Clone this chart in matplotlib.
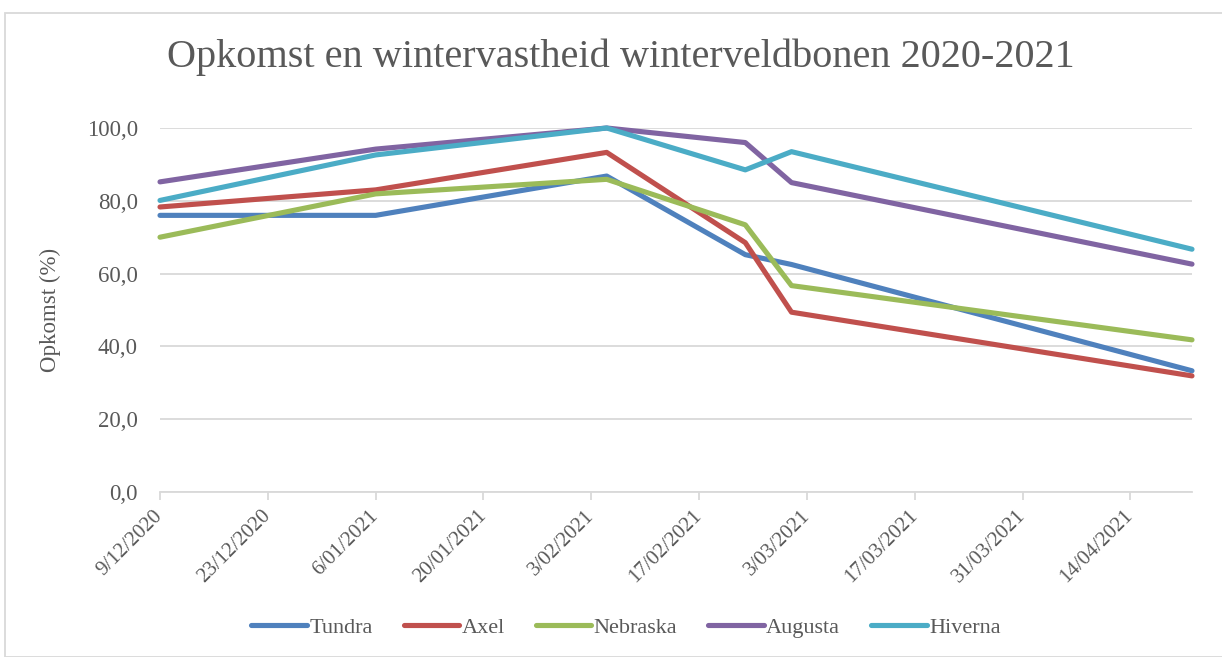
import matplotlib
matplotlib.use("Agg")
import matplotlib.pyplot as plt
from matplotlib.patches import Rectangle
from datetime import datetime

# ---- data ----
dates = ["9/12/2020", "6/01/2021", "5/02/2021", "23/02/2021", "1/03/2021", "22/04/2021"]
tundra = [76.0, 76.0, 86.8, 65.2, 62.5, 33.3]
axel = [78.3, 83.0, 93.3, 68.5, 49.4, 31.9]
nebraska = [70.0, 81.9, 85.9, 73.4, 56.7, 41.8]
augusta = [85.2, 94.2, 100.0, 96.0, 85.0, 62.6]
hiverna = [80.1, 92.6, 100.0, 88.5, 93.5, 66.7]
series_names = ["Tundra", "Axel", "Nebraska", "Augusta", "Hiverna"]
tick_labels = ["9/12/2020", "23/12/2020", "6/01/2021", "20/01/2021", "3/02/2021",
               "17/02/2021", "3/03/2021", "17/03/2021", "31/03/2021", "14/04/2021"]
y_ticks = [0, 20, 40, 60, 80, 100]
title = "Opkomst en wintervastheid winterveldbonen 2020-2021"
ylabel = "Opkomst (%)"

colors = ["#4F81BD", "#C0504D", "#9BBB59", "#8064A2", "#4BACC6"]

plt.rcParams['font.family'] = ['Liberation Serif', 'DejaVu Serif']
txt = "#595959"

def parse(s):
    return datetime.strptime(s, "%d/%m/%Y")

x = [parse(d) for d in dates]
xt = [parse(d) for d in tick_labels]

W, H = 1222, 657
fig = plt.figure(figsize=(W / 100, H / 100), dpi=100)
ax = fig.add_axes([160 / W, 1 - 492 / H, (1192 - 160) / W, (492 - 128) / H])

for name, vals, c in zip(series_names, [tundra, axel, nebraska, augusta, hiverna], colors):
    ax.plot(x, vals, color=c, lw=3.7, label=name, solid_capstyle='round',
            solid_joinstyle='round', clip_on=False)

ax.set_xlim(x[0], x[-1])
ax.set_ylim(0, 100)
ax.set_yticks(y_ticks)
ax.set_yticklabels([f"{v:.1f}".replace(".", ",") for v in y_ticks], fontsize=16.5, color=txt)
ax.set_xticks(xt)
ax.set_xticklabels(tick_labels, rotation=45, ha='right', va='center', rotation_mode='anchor',
                   fontsize=15, color=txt)
ax.grid(axis='y', color='#D9D9D9', lw=1.3)
ax.set_axisbelow(True)
for s in ['top', 'right', 'left']:
    ax.spines[s].set_visible(False)
ax.spines['bottom'].set_color('#D9D9D9')
ax.spines['bottom'].set_linewidth(1.3)
ax.tick_params(axis='y', length=0, pad=16)
ax.tick_params(axis='x', length=6, color='#D9D9D9', width=1.3, pad=9)
ax.set_ylabel(ylabel, fontsize=16.5, color=txt)
ax.yaxis.set_label_coords((61 - 160) / (1192 - 160), 0.5)

fig.text(621 / W, 1 - 57 / H, title, ha='center', va='center', fontsize=29, color=txt)

fig.patches.append(Rectangle((5 / W, 0), 1.5, 1 - 13 / H, transform=fig.transFigure,
                             fill=False, edgecolor='#D9D9D9', lw=1.3))

fig.legend(loc='center', bbox_to_anchor=(626 / W, 1 - 628 / H), ncol=5, frameon=False,
           fontsize=16, handlelength=2.5, columnspacing=1.4, handletextpad=0.1,
           labelcolor=txt)

fig.savefig("out.png", dpi=100)
